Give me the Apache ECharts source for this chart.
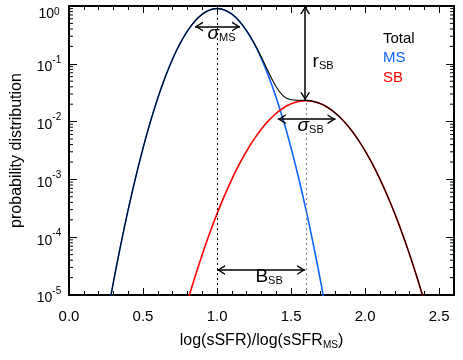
<!DOCTYPE html>
<html>
<head>
<meta charset="utf-8">
<script src="https://cdn.jsdelivr.net/npm/echarts@6/dist/echarts.min.js"></script>
<style>
  html, body { margin: 0; padding: 0; background: #fff; }
  #chart { width: 463px; height: 360px; }
</style>
</head>
<body>
<div id="chart"></div>
<script>
// x = log(sSFR)/log(sSFR_MS)
var xs = [0.25, 0.30, 0.35, 0.40, 0.45, 0.50, 0.55, 0.60, 0.65, 0.70, 0.75,
          0.80, 0.85, 0.90, 0.95, 1.00, 1.05, 1.10, 1.15, 1.20, 1.25, 1.30,
          1.35, 1.40, 1.45, 1.50, 1.55, 1.60, 1.65, 1.70, 1.75, 1.80, 1.85,
          1.90, 1.95, 2.00, 2.05, 2.10, 2.15, 2.20, 2.25, 2.30, 2.35, 2.40];

var ms = [3.35e-6, 1.68e-5, 7.53e-5, 3.02e-4, 1.08e-3, 3.48e-3, 0.0100, 0.0257, 0.0591, 0.1218, 0.2245,
          0.370, 0.546, 0.721, 0.851, 0.900, 0.851, 0.721, 0.546, 0.370, 0.2245, 0.1218,
          0.0591, 0.0257, 0.0100, 3.48e-3, 1.08e-3, 3.02e-4, 7.53e-5, 1.68e-5, 3.35e-6, null, null,
          null, null, null, null, null, null, null, null, null, null, null];

var sb = [null, null, null, null, null, null, null, null, null, null, null,
          7.72e-6, 2.03e-5, 5.03e-5, 1.17e-4, 2.56e-4, 5.24e-4, 1.01e-3, 1.83e-3, 3.11e-3, 4.98e-3, 7.47e-3,
          0.01053, 0.01395, 0.01737, 0.0203, 0.0223, 0.0230, 0.0223, 0.0203, 0.01737, 0.01395, 0.01053,
          7.47e-3, 4.98e-3, 3.11e-3, 1.83e-3, 1.01e-3, 5.24e-4, 2.56e-4, 1.17e-4, 5.03e-5, 2.03e-5, 7.72e-6];

var total = [3.35e-6, 1.68e-5, 7.53e-5, 3.02e-4, 1.08e-3, 3.48e-3, 0.0100, 0.0257, 0.0591, 0.1218, 0.2245,
             0.370, 0.546, 0.721, 0.851, 0.900, 0.852, 0.722, 0.548, 0.373, 0.2295, 0.1293,
             0.0696, 0.0397, 0.0274, 0.0238, 0.0234, 0.0233, 0.0224, 0.0203, 0.0174, 0.01395, 0.01053,
             7.47e-3, 4.98e-3, 3.11e-3, 1.83e-3, 1.01e-3, 5.24e-4, 2.56e-4, 1.17e-4, 5.03e-5, 2.03e-5, 7.72e-6];

var legendNames = ['Total', 'MS', 'SB'];
var xTicks = [0.0, 0.5, 1.0, 1.5, 2.0, 2.5];

var FONT = 'Liberation Sans';
var BLUE = '#0a64ff';
var RED = '#ff0000';

function pairs(vals){
    var out = [];
    for (var i = 0; i < xs.length; i++){
        if (vals[i] != null) out.push([xs[i], vals[i]]);
    }
    return out;
}

// log minor ticks 2..9 for each decade
var minorY = [];
for (var e = -5; e < 0; e++){
    for (var k = 2; k <= 9; k++){
        minorY.push([0, k * Math.pow(10, e)]);
    }
}

// open arrow head, tip at the centre of the box
var arrowHead = 'path://M0,0 M5,10 L10,18 L8.4,18 L5,12.4 L1.6,18 L0,18 Z M0,20';

function arrow(x1, y1, x2, y2){
    return [
        {coord: [x1, y1], symbol: arrowHead, symbolSize: [10, 20], lineStyle: {color: '#000', width: 1.5, type: 'solid'}},
        {coord: [x2, y2], symbol: arrowHead, symbolSize: [10, 20]}
    ];
}

function tag(x, y, big, sub, italic){
    return {
        coord: [x, y],
        symbol: 'circle',
        symbolSize: 0,
        label: {
            show: true,
            position: 'inside',
            formatter: '{big|' + big + '}{sub|' + sub + '}',
            rich: {
                big: {fontSize: 19, fontFamily: FONT, color: '#000', fontStyle: italic ? 'italic' : 'normal'},
                sub: {fontSize: 11, fontFamily: FONT, color: '#000', padding: [9, 0, 0, 0]}
            }
        }
    };
}

var chartDom = document.getElementById('chart');
var myChart = echarts.init(chartDom, null, {renderer: 'canvas'});
var option = {};

option['animation'] = false;
option['backgroundColor'] = '#fff';

option['grid'] = {
    left: 69,
    right: 9,
    top: 6,
    bottom: 65
};

option['legend'] = {
    data: [
        {name: 'Total', textStyle: {color: '#000'}},
        {name: 'MS', textStyle: {color: BLUE}},
        {name: 'SB', textStyle: {color: RED}}
    ],
    orient: 'vertical',
    left: 378,
    top: 31,
    icon: 'none',
    itemWidth: 0,
    itemHeight: 14,
    itemGap: 4.5,
    padding: 0,
    selectedMode: false,
    textStyle: {fontSize: 15, fontFamily: FONT}
};

var xBase = {
    type: 'value',
    min: 0,
    max: 2.6,
    interval: 0.5,
    splitLine: {show: false},
    axisLine: {onZero: false, lineStyle: {color: '#000', width: 2}},
    axisTick: {inside: true, length: 7, lineStyle: {color: '#000', width: 1}},
    minorTick: {show: true, splitNumber: 5, length: 4, lineStyle: {color: '#000', width: 1}},
    minorSplitLine: {show: false}
};

option['xAxis'] = [
    Object.assign({}, xBase, {
        position: 'bottom',
        axisLabel: {
            fontSize: 15, fontFamily: FONT, color: '#000', margin: 14,
            showMaxLabel: false,
            formatter: function(v){
                return xTicks.indexOf(v) >= 0 ? v.toFixed(1) : '';
            }
        },
        name: '{m|log(sSFR)/log(sSFR}{s|MS}{m|)}',
        nameLocation: 'middle',
        nameGap: 36,
        nameTextStyle: {
            rich: {
                m: {fontSize: 16, fontFamily: FONT, color: '#000'},
                s: {fontSize: 10, fontFamily: FONT, color: '#000', padding: [9, 0, 0, 0]}
            }
        }
    }),
    Object.assign({}, xBase, {
        position: 'top',
        axisLabel: {show: false}
    })
];

var yBase = {
    type: 'log',
    logBase: 10,
    min: 1e-5,
    max: 1,
    splitLine: {show: false},
    axisLine: {onZero: false, lineStyle: {color: '#000', width: 2}},
    axisTick: {inside: true, length: 8, lineStyle: {color: '#000', width: 1}}
};

option['yAxis'] = [
    Object.assign({}, yBase, {
        position: 'left',
        axisLabel: {
            margin: 20,
            align: 'center',
            formatter: function(v){
                var p = Math.round(Math.log(v) / Math.LN10);
                if (p == 0) return '{b0|10}{e0|' + p + '}';
                return '{b|10}{e|' + p + '}';
            },
            rich: {
                b: {fontSize: 14, fontFamily: FONT, color: '#000', padding: [7, 0, 0, 0]},
                e: {fontSize: 10, fontFamily: FONT, color: '#000', padding: [0, 0, 8, 0]},
                b0: {fontSize: 14, fontFamily: FONT, color: '#000', padding: [17, 0, 0, 0]},
                e0: {fontSize: 10, fontFamily: FONT, color: '#000', padding: [12, 0, 0, 0]}
            }
        },
        name: 'probability distribution',
        nameLocation: 'middle',
        nameGap: 44,
        nameTextStyle: {fontSize: 16, fontFamily: FONT, color: '#000'}
    }),
    Object.assign({}, yBase, {
        position: 'right',
        axisLabel: {show: false}
    })
];

option['series'] = [
    {
        name: 'MS',
        type: 'line',
        data: pairs(ms),
        smooth: 0.3,
        showSymbol: false,
        color: BLUE,
        lineStyle: {color: BLUE, width: 1.6},
        z: 2
    },
    {
        name: 'SB',
        type: 'line',
        data: pairs(sb),
        smooth: 0.3,
        showSymbol: false,
        color: RED,
        lineStyle: {color: RED, width: 1.6},
        z: 2
    },
    {
        name: 'Total',
        type: 'line',
        data: pairs(total),
        smooth: 0.3,
        showSymbol: false,
        color: '#000',
        lineStyle: {color: '#000', width: 1.1},
        z: 3,
        markLine: {
            silent: true,
            symbol: ['none', 'none'],
            label: {show: false},
            data: [
                [{coord: [1.0, 1e-5], lineStyle: {color: '#000', width: 1, type: [2, 3]}}, {coord: [1.0, 0.9]}],
                [{coord: [1.6, 1e-5], lineStyle: {color: '#888', width: 1.2, type: [2, 3]}}, {coord: [1.6, 0.023]}],
                arrow(0.851, 0.44, 1.155, 0.44),
                arrow(1.595, 1.0, 1.595, 0.0235),
                arrow(1.41, 0.011, 1.80, 0.011),
                arrow(1.0, 2.7e-5, 1.595, 2.7e-5)
            ]
        },
        markPoint: {
            silent: true,
            data: [
                tag(1.03, 0.33, 'σ', 'MS', true),
                tag(1.716, 0.11, 'r', 'SB', false),
                tag(1.632, 0.0085, 'σ', 'SB', true),
                tag(1.351, 2.1e-5, 'B', 'SB', false)
            ]
        }
    },
    {
        name: 'minorY',
        type: 'custom',
        silent: true,
        data: minorY,
        renderItem: function(params, api){
            var cs = params.coordSys;
            var y = api.coord([0, api.value(1)])[1];
            return {
                type: 'group',
                children: [
                    {type: 'line', shape: {x1: cs.x, y1: y, x2: cs.x + 4, y2: y}, style: {stroke: '#000', lineWidth: 1}},
                    {type: 'line', shape: {x1: cs.x + cs.width, y1: y, x2: cs.x + cs.width - 4, y2: y}, style: {stroke: '#000', lineWidth: 1}}
                ]
            };
        },
        z: 4
    }
];

option && myChart.setOption(option);
</script>
</body>
</html>
